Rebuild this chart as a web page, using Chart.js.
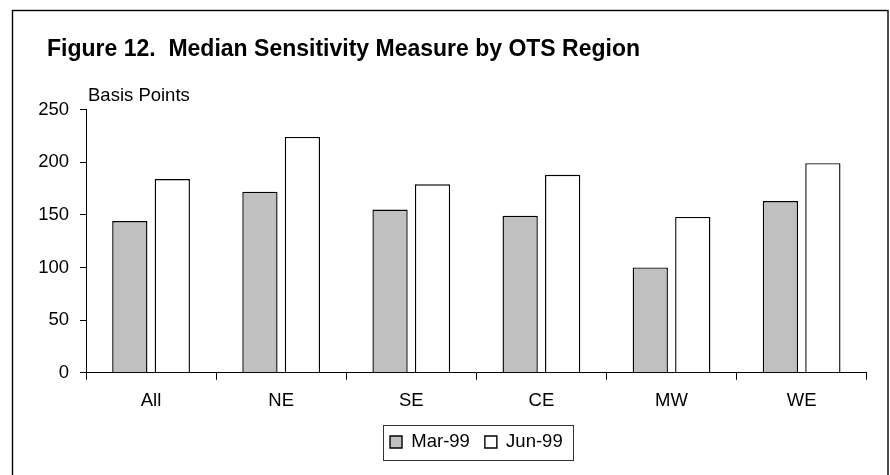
<!DOCTYPE html>
<html><head><meta charset="utf-8">
<script src="https://cdn.jsdelivr.net/npm/chart.js@4/dist/chart.umd.min.js"></script>
<style>html,body{margin:0;padding:0;background:#fff}#wrap{width:890px;height:475px;position:relative}</style>
</head><body><div id="wrap"><canvas id="c" width="890" height="475"></canvas></div>
<script>
const categories = ['All', 'NE', 'SE', 'CE', 'MW', 'WE'];
const seriesNames = ['Mar-99', 'Jun-99'];
const mar99 = [144, 172, 155, 149, 100, 163];
const jun99 = [184, 224, 179, 188, 148, 199];
const yTickValues = [0, 50, 100, 150, 200, 250];
const titleText = 'Figure 12.  Median Sensitivity Measure by OTS Region';
const yCaption = 'Basis Points';

const FONT = "'Liberation Sans', Arial, sans-serif";

const framePlugin = {
  id: 'frame',
  afterLayout(chart) {
    // shift the title so it starts where the reference title starts
    if (chart.titleBlock) {
      chart.titleBlock.left = 47;
    }
  },
  beforeDraw(chart) {
    const ctx = chart.ctx;
    ctx.save();
    ctx.fillStyle = '#fff';
    ctx.fillRect(0, 0, chart.width, chart.height);
    ctx.strokeStyle = '#000';
    ctx.lineWidth = 1.4;
    ctx.strokeRect(12.5, 10.5, 875.5, chart.height + 10);
    ctx.restore();
  },
  afterDraw(chart) {
    const ctx = chart.ctx;
    ctx.save();
    // y-axis caption
    ctx.font = '18.5px ' + FONT;
    ctx.fillStyle = '#000';
    ctx.textBaseline = 'alphabetic';
    ctx.textAlign = 'left';
    ctx.fillText(yCaption, chart.chartArea.left + 2, 100.7);
    // legend frame
    const boxes = chart.legend.legendHitBoxes;
    if (boxes && boxes.length) {
      const l = boxes[0].left - 7;
      const last = boxes[boxes.length - 1];
      const r = last.left + last.width + 10;
      const cy = boxes[0].top + boxes[0].height / 2;
      ctx.strokeStyle = '#333';
      ctx.lineWidth = 1;
      ctx.strokeRect(Math.round(l) + 0.5, Math.round(cy - 17.5) + 0.5, Math.round(r - l), 35);
    }
    ctx.restore();
  }
};

new Chart(document.getElementById('c'), {
  type: 'bar',
  data: {
    labels: categories,
    datasets: [
      { label: seriesNames[0], data: mar99, backgroundColor: '#c0c0c0', borderColor: '#000', borderWidth: 1.4 },
      { label: seriesNames[1], data: jun99, backgroundColor: '#ffffff', borderColor: '#000', borderWidth: 1.4 }
    ]
  },
  options: {
    responsive: false,
    devicePixelRatio: 1,
    animation: false,
    datasets: { bar: { categoryPercentage: 0.653, barPercentage: 0.83 } },
    layout: { padding: { left: 12, right: 23.3, top: 10, bottom: 13.75 } },
    plugins: {
      title: {
        display: true,
        text: titleText,
        align: 'start',
        color: '#000',
        font: { family: FONT, size: 23, weight: 'bold', lineHeight: 1.2 },
        padding: { top: 26, bottom: 45.9 }
      },
      legend: {
        display: true,
        position: 'bottom',
        fullSize: false,
        labels: {
          color: '#000',
          font: { family: FONT, size: 18.5 },
          boxWidth: 12,
          boxHeight: 12,
          padding: 15
        }
      },
      tooltip: { enabled: false }
    },
    scales: {
      x: {
        offset: true,
        grid: { display: true, offset: true, drawOnChartArea: false, drawTicks: true, tickLength: 7, color: '#000' },
        border: { display: true, color: '#000', width: 1 },
        ticks: { color: '#000', font: { family: FONT, size: 18.5 }, padding: 10, maxRotation: 0 },
        afterFit(scale) { scale.height = 45; }
      },
      y: {
        min: 0,
        max: 250,
        afterBuildTicks(scale) { scale.ticks = yTickValues.map(v => ({ value: v })); },
        grid: { display: true, drawOnChartArea: false, drawTicks: true, tickLength: 6, color: '#000' },
        border: { display: true, color: '#000', width: 1 },
        ticks: { color: '#000', font: { family: FONT, size: 18.5 }, padding: 11 },
        afterFit(scale) { scale.width = 74; }
      }
    }
  },
  plugins: [framePlugin]
});
</script>
</body></html>
